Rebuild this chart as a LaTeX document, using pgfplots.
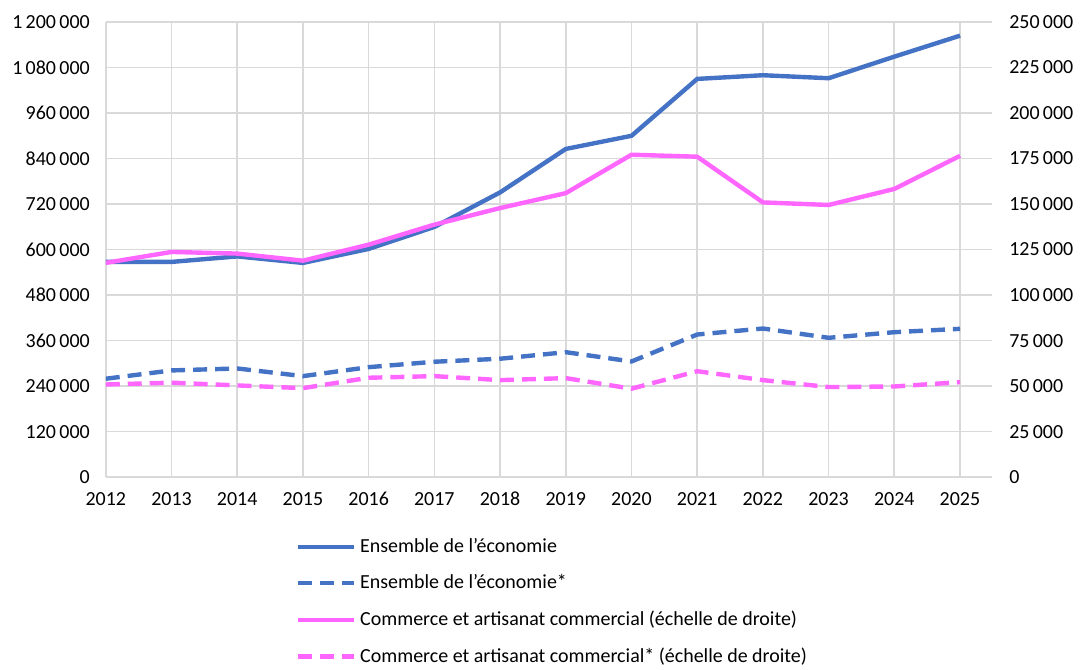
\documentclass[border=0pt]{standalone}
\usepackage{fontspec}
\setmainfont{Carlito}
\usepackage{pgfplots}
\pgfplotsset{compat=1.18}
\definecolor{cblue}{HTML}{4472C4}
\definecolor{cpink}{HTML}{FF66FF}
\definecolor{cgrid}{HTML}{D9D9D9}
\begin{document}
\begin{tikzpicture}[font=\fontsize{10}{12}\selectfont]
\pgfplotsset{
  common/.style={
    scale only axis, width=444pt, height=228pt,
    xmin=2012, xmax=2025.49,
    tick style={draw=none},
    scaled ticks=false,
    /pgf/number format/.cd, fixed, precision=0, assume math mode=true, 1000 sep={\,},
    /pgfplots/.cd,
    ticklabel style={font=\fontsize{10}{12}\selectfont, text=black},
  }
}
\begin{axis}[common, name=ax,
  axis x line*=bottom, axis y line*=left,
  axis line style={draw=none},
  ymin=0, ymax=1200000, ytick distance=120000,
  xticklabel style={/pgf/number format/1000 sep={}, yshift=-4pt},
  yticklabel style={xshift=-4.5pt},
  grid=major, major grid style={cgrid, line width=0.8pt},
  xtick={2012,...,2025},
]
\addplot[cblue, line width=2.2pt] coordinates {
(2012,567500) (2013,567500) (2014,582000) (2015,564800) (2016,601700)
(2017,659600) (2018,750700) (2019,865300) (2020,899900) (2021,1049900)
(2022,1059600) (2023,1051700) (2024,1108600) (2025,1163900)};
\addplot[cblue, line width=2.2pt, dash pattern=on 7pt off 4pt] coordinates {
(2012,259500) (2013,281400) (2014,286600) (2015,266400) (2016,290000)
(2017,304300) (2018,312200) (2019,329500) (2020,305000) (2021,376100)
(2022,391900) (2023,367400) (2024,382200) (2025,391100)};
\end{axis}
\begin{axis}[common,
  axis y line*=right, axis x line=none,
  axis line style={draw=none},
  ymin=0, ymax=250000, ytick distance=25000,
  yticklabel style={xshift=5pt},
  legend style={at={(0.214,-0.125)}, anchor=north west, draw=none, fill=none,
    font=\fontsize{10}{12}\selectfont, row sep=5.6pt, inner sep=0pt,
    cells={anchor=west}},
  legend cell align=left,
  legend image code/.code={\draw[#1] (0pt,0pt) -- (28pt,0pt);},
]
\addlegendimage{cblue, line width=2.2pt}
\addlegendentry{Ensemble de l’économie}
\addlegendimage{cblue, line width=2.2pt, dash pattern=on 7pt off 4pt}
\addlegendentry{Ensemble de l’économie*}
\addplot[cpink, line width=2.2pt] coordinates {
(2012,117700) (2013,123700) (2014,122800) (2015,118900) (2016,127700)
(2017,138700) (2018,147800) (2019,156000) (2020,177100) (2021,176000)
(2022,150900) (2023,149500) (2024,158300) (2025,176500)};
\addlegendentry{Commerce et artisanat commercial (échelle de droite)}
\addplot[cpink, line width=2.2pt, dash pattern=on 7pt off 4pt] coordinates {
(2012,50900) (2013,51900) (2014,50400) (2015,48900) (2016,54600)
(2017,55500) (2018,53300) (2019,54400) (2020,48600) (2021,58200)
(2022,53300) (2023,49500) (2024,49800) (2025,52200)};
\addlegendentry{Commerce et artisanat commercial* (échelle de droite)}
\end{axis}
\path[use as bounding box] ([xshift=-53pt,yshift=11pt]ax.north west) rectangle ([xshift=43pt,yshift=-93pt]ax.south east);
\end{tikzpicture}
\end{document}
